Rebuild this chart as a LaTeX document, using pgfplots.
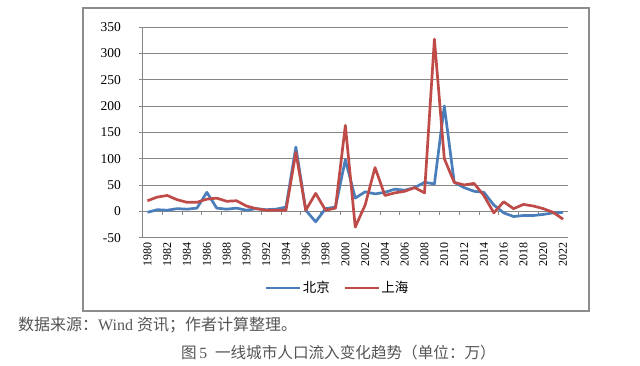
\documentclass[border=0pt]{standalone}
\usepackage{fontspec}
\usepackage{pgfplots}
\pgfplotsset{compat=1.18}
\setmainfont{Liberation Serif}
\newfontfamily\cjk{Noto Sans CJK SC}
\definecolor{bjblue}{HTML}{4A7EBB}
\definecolor{shred}{HTML}{BE4B48}
\definecolor{gridc}{HTML}{868686}
\definecolor{framec}{HTML}{8C8C8C}
\definecolor{txtc}{HTML}{555555}
\begin{document}
\begin{tikzpicture}
\path (0pt,0pt) rectangle (640pt,365pt);
\draw[framec, line width=1.6pt] (82.7pt,54.3pt) rectangle (589pt,357pt);
\begin{axis}[
  at={(142.5pt,127.4pt)}, anchor=south west,
  scale only axis, width=425.5pt, height=210.6pt,
  xmin=-0.5, xmax=42.5, ymin=-50, ymax=350,
  axis x line*=bottom, axis y line*=left,
  x axis line style={draw=none},
  y axis line style={gridc, line width=0.8pt},
  xtick={0,2,...,42},
  xticklabels={1980,1982,1984,1986,1988,1990,1992,1994,1996,1998,2000,2002,2004,2006,2008,2010,2012,2014,2016,2018,2020,2022},
  x tick style={draw=none},
  xticklabel style={rotate=90, anchor=east, font=\fontsize{12}{13}\selectfont, inner sep=1pt},
  ytick={-50,0,...,350},
  y tick style={gridc, line width=0.8pt},
  tick align=outside, major tick length=4pt,
  yticklabel style={font=\fontsize{13.5}{14}\selectfont, xshift=-14pt},
  /pgf/number format/assume math mode=true,
  ymajorgrids, major grid style={gridc, line width=0.8pt},
  legend style={at={(0.459,-0.239)}, anchor=center, draw=none, fill=none,
    font=\cjk\fontsize{13.5}{14}\selectfont, legend columns=2,
    /tikz/every even column/.append style={column sep=12pt}},
  legend image code/.code={\draw[#1, line width=1.5pt] (0pt,0pt) -- (34pt,0pt);},
  clip=false,
]
\draw[gridc, line width=0.8pt] (axis cs:-0.5,0) -- (axis cs:42.5,0);
\pgfplotsinvokeforeach{-0.5,1.5,3.5,5.5,7.5,9.5,11.5,13.5,15.5,17.5,19.5,21.5,23.5,25.5,27.5,29.5,31.5,33.5,35.5,37.5,39.5,41.5}{
  \draw[gridc, line width=0.8pt] (axis cs:#1,0) -- (axis cs:#1,-7.6);
}
\addplot[bjblue, line width=2.7pt, line join=round] coordinates {
(0,-2)(1,3)(2,2)(3,5)(4,4)(5,6)(6,36)(7,6)(8,4)(9,6)
(10,2)(11,5)(12,3)(13,4)(14,8)(15,122)(16,2)(17,-20)(18,5)(19,8)
(20,98)(21,25)(22,37)(23,33)(24,36)(25,42)(26,40)(27,45)(28,55)(29,52)
(30,200)(31,55)(32,45)(33,38)(34,36)(35,12)(36,-3)(37,-10)(38,-8)(39,-8)
(40,-6)(41,-3)(42,-2)};
\addlegendentry{北京}
\addplot[shred, line width=2.7pt, line join=round] coordinates {
(0,20)(1,27)(2,30)(3,22)(4,17)(5,17)(6,23)(7,25)(8,19)(9,20)
(10,10)(11,5)(12,2)(13,2)(14,2)(15,112)(16,2)(17,34)(18,2)(19,6)
(20,163)(21,-30)(22,12)(23,83)(24,30)(25,35)(26,38)(27,45)(28,35)(29,327)
(30,100)(31,55)(32,50)(33,53)(34,30)(35,-3)(36,18)(37,5)(38,13)(39,10)
(40,5)(41,-2)(42,-15)};
\addlegendentry{上海}
\end{axis}
\node[anchor=west, text=txtc, font=\fontsize{16}{17}\selectfont, inner sep=0pt] at (18pt,40pt) {{\cjk 数据来源：}Wind {\cjk 资讯；作者计算整理。}};
\node[text=txtc, font=\fontsize{15.6}{16}\selectfont, inner sep=0pt] at (338.5pt,12pt) {{\cjk 图}\,5\ \ {\cjk 一线城市人口流入变化趋势（单位：万）}};
\end{tikzpicture}
\end{document}
